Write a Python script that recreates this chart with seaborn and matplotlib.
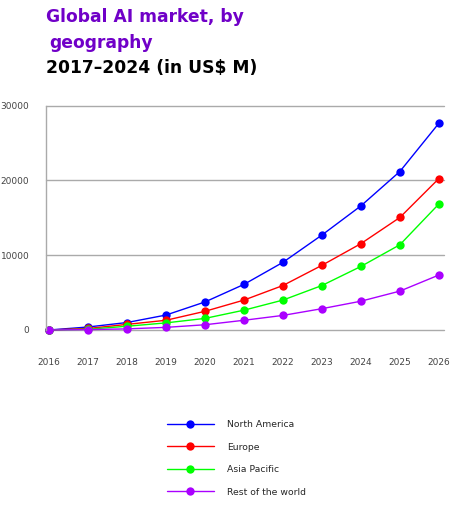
import matplotlib
matplotlib.use("Agg")
import matplotlib.pyplot as plt
import seaborn as sns
import pandas as pd

years = [2016, 2017, 2018, 2019, 2020, 2021, 2022, 2023, 2024, 2025, 2026]
north_america = [0, 400, 1000, 2000, 3750, 6100, 9050, 12700, 16600, 21200, 27650]
europe = [0, 200, 750, 1300, 2500, 4000, 5950, 8650, 11550, 15050, 20250]
asia_pacific = [0, 100, 500, 950, 1550, 2650, 4000, 5950, 8500, 11400, 16850]
rest_of_world = [0, 50, 150, 350, 700, 1300, 1950, 2850, 3850, 5200, 7350]
series_names = ["North America", "Europe", "Asia Pacific", "Rest of the world"]
colors = ["#0000ff", "#ff0000", "#00ff00", "#aa00ff"]
yticks = [0, 10000, 20000, 30000]

rows = []
for name, vals in zip(series_names, [north_america, europe, asia_pacific, rest_of_world]):
    for y, v in zip(years, vals):
        rows.append({"year": y, "value": v, "region": name})
df = pd.DataFrame(rows)

sns.set_theme(style="white")
plt.rcParams["font.family"] = ["DejaVu Sans"]

fig = plt.figure(figsize=(4.6, 5.12), dpi=100)
ax = fig.add_axes([0.1, 0.3555, 0.865, 0.438])

sns.lineplot(data=df, x="year", y="value", hue="region", hue_order=series_names,
             palette=colors, marker="o", markersize=6, markeredgewidth=0,
             linewidth=1.0, ax=ax, legend=True)
for line in ax.lines:
    line.set_clip_on(False)

ax.set_xlim(2015.92, 2026.13)
ax.set_ylim(0, 30000)
ax.set_xticks(years)
ax.set_xticklabels([str(y) for y in years])
ax.set_yticks(yticks)
ax.set_yticklabels([str(t) for t in yticks])
ax.tick_params(axis="x", length=0, pad=20, labelsize=6.5, colors="#444444")
ax.tick_params(axis="y", length=0, pad=12, labelsize=6.5, colors="#444444")
ax.yaxis.grid(True, color="#aaaaaa", linewidth=1.0)
for gl in ax.get_ygridlines():
    gl.set_clip_on(False)
ax.set_axisbelow(True)
for s in ["top", "right", "bottom"]:
    ax.spines[s].set_visible(False)
ax.spines["left"].set_color("#aaaaaa")
ax.spines["left"].set_linewidth(1.0)
ax.set_xlabel("")
ax.set_ylabel("")

handles, labels = ax.get_legend_handles_labels()
ax.legend(handles, labels, loc="upper left", bbox_to_anchor=(0.345, 0.196),
          bbox_transform=fig.transFigure, frameon=False, fontsize=6.7,
          handlelength=5.0, handletextpad=1.4, labelspacing=1.45)

fig.text(0.1, 0.966, "Global AI market, by", color="#7000c8", fontsize=12.3,
         fontweight="heavy", va="center", ha="left")
fig.text(0.108, 0.916, "geography", color="#7000c8", fontsize=12.3,
         fontweight="heavy", va="center", ha="left")
fig.text(0.1, 0.867, "2017\u20132024 (in US$ M)", color="#000000", fontsize=12.3,
         fontweight="heavy", va="center", ha="left")

fig.savefig("out.png", dpi=100)
